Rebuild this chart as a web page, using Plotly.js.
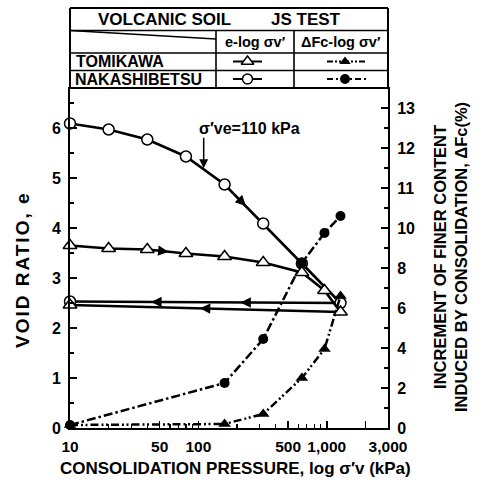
<!DOCTYPE html>
<html><head><meta charset="utf-8">
<script src="https://cdn.plot.ly/plotly-3.0.1.min.js"></script>
<style>
html,body{margin:0;padding:0;background:#fff}#chart{width:480px;height:482px}
g.annotation[data-index="7"] text{letter-spacing:2px}
</style>
</head><body><div id="chart"></div>
<script>
// ---- data ----
const tomiPressure = [10, 20, 40, 80, 160, 320, 640, 960, 1280, 10];
const tomiVoid     = [3.65, 3.59, 3.57, 3.49, 3.43, 3.31, 3.11, 2.75, 2.32, 2.46];
const nakaPressure = [10, 20, 40, 80, 160, 320, 640, 1280, 10];
const nakaVoid     = [6.09, 5.97, 5.77, 5.43, 4.87, 4.09, 3.29, 2.50, 2.53];
const tomiFcPressure = [10, 160, 320, 640, 960, 1280];
const tomiFc         = [0.15, 0.2, 0.7, 2.5, 3.95, 6.6];
const nakaFcPressure = [10, 160, 320, 640, 960, 1280];
const nakaFc         = [0.15, 2.25, 4.45, 8.25, 9.75, 10.3];
const xTickVals  = [10, 50, 100, 500, 1000, 2000, 3000];
const xTickText  = ['10', '50', '100', '500', '1,000', '', '3,000'];
const xMinorVals = [20, 30, 40, 60, 70, 80, 90, 200, 300, 400, 600, 700, 800, 900];
const fcTickLabels = [0, 2, 4, 6, 8, 10, 11, 12, 13];
const annotPressure = 110;

// right axis of the reference is stretched above 10 %
const fcToAxis = v => v <= 10 ? v : 10 + (v - 10) * 2;

// ---- layout geometry (pixels) ----
const W = 480, H = 482, L = 70, R = 388, T = 8, PT = 89, B = 428;
const px2x = p => (p - L) / (R - L);
const py2y = p => (B - p) / (B - T);
const xMaxLog = Math.log10(3000), yMax = 6.78, y2Max = 16.95;
const pxPerDec = (R - L) / (xMaxLog - 1), pxPerE = (B - PT) / yMax;

const FONT = 'Liberation Sans, Arial, Helvetica, sans-serif';
const black = '#000';

const traces = [
  {x: nakaPressure, y: nakaVoid, mode: 'lines+markers', line: {color: black, width: 2.6},
   marker: {symbol: 'circle', size: 11, color: '#fff', line: {color: black, width: 1.5}}, cliponaxis: false},
  {x: tomiPressure, y: tomiVoid, mode: 'lines+markers', line: {color: black, width: 2.6},
   marker: {symbol: 'triangle-up', size: 12, color: '#fff', line: {color: black, width: 1.5}}, cliponaxis: false},
  {x: nakaFcPressure, y: nakaFc.map(fcToAxis), yaxis: 'y2', mode: 'lines+markers',
   line: {color: black, width: 2.5, dash: '9px,3px,2.5px,3px'},
   marker: {symbol: 'circle', size: 10, color: black}, cliponaxis: false},
  {x: tomiFcPressure, y: tomiFc.map(fcToAxis), yaxis: 'y2', mode: 'lines+markers',
   line: {color: black, width: 2.5, dash: '8px,3px,2px,2.5px,2px,3px'},
   marker: {symbol: 'triangle-up', size: 11, color: black}, cliponaxis: false},
  // table legend samples
  {x: [233, 262], y: [61.5, 61.5], xaxis: 'x3', yaxis: 'y3', mode: 'lines', line: {color: black, width: 2}},
  {x: [247.5], y: [61.5], xaxis: 'x3', yaxis: 'y3', mode: 'markers',
   marker: {symbol: 'triangle-up', size: 11, color: '#fff', line: {color: black, width: 1.5}}},
  {x: [233, 262], y: [79, 79], xaxis: 'x3', yaxis: 'y3', mode: 'lines', line: {color: black, width: 2}},
  {x: [247.5], y: [79], xaxis: 'x3', yaxis: 'y3', mode: 'markers',
   marker: {symbol: 'circle', size: 10, color: '#fff', line: {color: black, width: 1.5}}},
  {x: [327, 367], y: [61.5, 61.5], xaxis: 'x3', yaxis: 'y3', mode: 'lines', line: {color: black, width: 2, dash: '6px,2px,2px,2px,2px,2px'}},
  {x: [345], y: [61.5], xaxis: 'x3', yaxis: 'y3', mode: 'markers', marker: {symbol: 'triangle-up', size: 10, color: black}},
  {x: [327, 367], y: [79, 79], xaxis: 'x3', yaxis: 'y3', mode: 'lines', line: {color: black, width: 2, dash: '6px,3px,2px,3px'}},
  {x: [345], y: [79], xaxis: 'x3', yaxis: 'y3', mode: 'markers', marker: {symbol: 'circle', size: 10, color: black}}
];

// direction arrows on e-log curves
function arrowOn(xs, ys, i, t, len) {
  const lx0 = Math.log10(xs[i]), lx1 = Math.log10(xs[i + 1]);
  const lx = lx0 + (lx1 - lx0) * t, y = ys[i] + (ys[i + 1] - ys[i]) * t;
  const dx = (lx1 - lx0) * pxPerDec, dy = -(ys[i + 1] - ys[i]) * pxPerE;
  const n = Math.hypot(dx, dy);
  return {x: lx, y: y, xref: 'x', yref: 'y', showarrow: true, text: '',
    ax: -dx / n * len, ay: -dy / n * len, arrowhead: 2, arrowsize: 0.95, arrowwidth: 2.2, arrowcolor: black, standoff: 0};
}
const arrows = [
  arrowOn(nakaPressure, nakaVoid, 4, 0.55, 10),
  arrowOn(tomiPressure, tomiVoid, 2, 0.55, 10),
  arrowOn(nakaPressure, nakaVoid, 7, 0.37, 10),
  arrowOn(nakaPressure, nakaVoid, 7, 0.70, 10),
  arrowOn(tomiPressure, tomiVoid, 8, 0.52, 10)
];
// sigma've arrow
const lA = Math.log10(annotPressure), l0 = Math.log10(80), l1 = Math.log10(160);
const eA = nakaVoid[3] + (nakaVoid[4] - nakaVoid[3]) * (lA - l0) / (l1 - l0);
arrows.push({x: lA, y: eA, xref: 'x', yref: 'y', showarrow: true, text: '', ax: 0, ay: -33,
  arrowhead: 2, arrowsize: 1.2, arrowwidth: 1.5, arrowcolor: black, standoff: 1});

const txt = (text, px, py, size, opts = {}) => Object.assign({
  text: text, x: px2x(px), y: py2y(py), xref: 'paper', yref: 'paper', showarrow: false,
  font: {family: FONT, size: size, color: black, weight: 'bold'}, xanchor: 'center', yanchor: 'middle'}, opts);

const annotations = arrows.concat([
  txt('σ′ve=110 kPa', 197, 128, 16, {xanchor: 'left'}),               // index 6
  txt('VOID RATIO, e', 22, 270, 19, {textangle: -90}),                   // index 7
  txt('INCREMENT OF FINER CONTENT<br>INDUCED BY CONSOLIDATION, ΔFc(%)', 450, 257, 16.5, {textangle: -90}),
  txt('CONSOLIDATION PRESSURE, log σ′v (kPa)', 235, 468, 17),
  txt('VOLCANIC SOIL', 164, 19, 17),
  txt('JS TEST', 306, 19, 17),
  txt('e-log σv′', 255, 41.5, 14.5),
  txt('ΔFc-log σv′', 341, 41.5, 14.5),
  txt('TOMIKAWA', 74, 61.5, 16, {xanchor: 'left'}),
  txt('NAKASHIBETSU', 73, 79.5, 16, {xanchor: 'left'})
]);

const ln = (x0, y0, x1, y1, w) => ({type: 'line', xref: 'paper', yref: 'paper',
  x0: px2x(x0), y0: py2y(y0), x1: px2x(x1), y1: py2y(y1), line: {color: black, width: w || 1.6}});
const shapes = [
  ln(L, 8, R, 8, 2), ln(L, 8, L, PT, 2), ln(R, 8, R, PT, 2),
  ln(L, 30.5, R, 30.5), ln(L, 53, R, 53), ln(L, 70.5, R, 70.5),
  ln(216, 30.5, 216, PT), ln(294, 30.5, 294, PT),
  ln(L, 30.5, 216, 39, 1.3)
];

const yTick = {family: FONT, size: 16, color: black, weight: 'bold'};
const layout = {
  width: W, height: H,
  margin: {l: L, r: W - R, t: T, b: H - B, pad: 0},
  paper_bgcolor: '#fff', plot_bgcolor: 'rgba(0,0,0,0)',
  showlegend: false,
  font: {family: FONT, color: black, size: 15},
  xaxis: {type: 'log', range: [1, xMaxLog], domain: [0, 1], anchor: 'y',
    tickmode: 'array', tickvals: xTickVals, ticktext: xTickText,
    ticks: 'inside', ticklen: 7, tickwidth: 1.5, tickcolor: black,
    showline: true, linewidth: 2, linecolor: black, mirror: true,
    showgrid: false, zeroline: false, tickfont: {family: FONT, size: 15.5, color: black, weight: 'bold'},
    ticklabelstandoff: 3,
    minor: {tickmode: 'array', tickvals: xMinorVals, ticks: 'inside', ticklen: 4, tickwidth: 1.2, tickcolor: black, showgrid: false}},
  yaxis: {range: [0, yMax], domain: [0, (B - PT) / (B - T)], anchor: 'x',
    tick0: 0, dtick: 1, ticks: 'inside', ticklen: 7, tickwidth: 1.5, tickcolor: black,
    showline: true, linewidth: 2, linecolor: black, showgrid: false, zeroline: false,
    tickfont: yTick, ticklabelstandoff: 4,
    minor: {tick0: 0, dtick: 0.5, ticks: 'inside', ticklen: 4, tickwidth: 1.2, tickcolor: black, showgrid: false}},
  yaxis2: {overlaying: 'y', side: 'right', anchor: 'x', range: [0, y2Max],
    tickmode: 'array', tickvals: fcTickLabels.map(fcToAxis), ticktext: fcTickLabels.map(String),
    ticks: 'inside', ticklen: 7, tickwidth: 1.5, tickcolor: black,
    showline: true, linewidth: 2, linecolor: black, showgrid: false, zeroline: false,
    tickfont: yTick, ticklabelstandoff: 4,
    minor: {tickmode: 'linear', tick0: 0, dtick: 1, ticks: 'inside', ticklen: 4, tickwidth: 1.2, tickcolor: black, showgrid: false}},
  xaxis3: {domain: [0, 1], range: [L, R], visible: false, anchor: 'y3', fixedrange: true},
  yaxis3: {domain: [(B - PT) / (B - T), 1], range: [PT, T], visible: false, anchor: 'x3', fixedrange: true},
  shapes: shapes,
  annotations: annotations
};

Plotly.newPlot('chart', traces, layout, {staticPlot: true, displayModeBar: false});
</script></body></html>
